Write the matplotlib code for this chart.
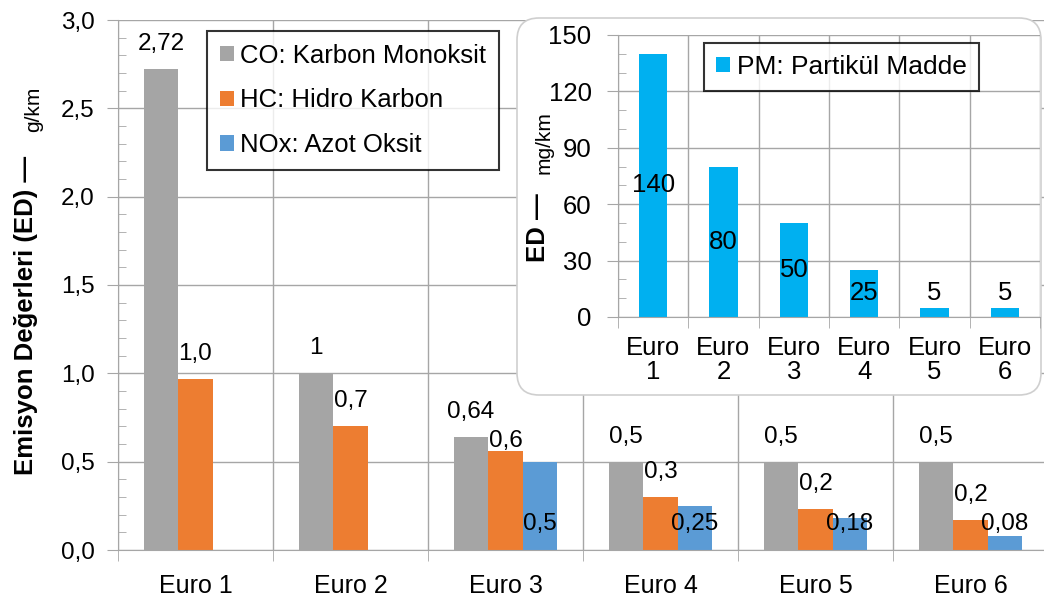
import matplotlib.pyplot as plt
import numpy as np
from matplotlib.patches import FancyBboxPatch
from matplotlib.ticker import FixedLocator, FuncFormatter, MultipleLocator

plt.rcParams["font.family"] = ["Liberation Sans", "DejaVu Sans"]

# Euro emission limits, g/km (CO, HC, NOx) and mg/km (PM)
STAGES = ["Euro 1", "Euro 2", "Euro 3", "Euro 4", "Euro 5", "Euro 6"]
CO = [2.72, 1.0, 0.64, 0.5, 0.5, 0.5]
HC = [0.97, 0.70, 0.56, 0.30, 0.23, 0.17]
NOX = [np.nan, np.nan, 0.5, 0.25, 0.18, 0.08]
PM = [140, 80, 50, 25, 5, 5]

SERIES = [
    ("CO: Karbon Monoksit", CO, "#A5A5A5", None),
    ("HC: Hidro Karbon", HC, "#ED7D31", 1),
    ("NOx: Azot Oksit", NOX, "#5B9BD5", None),
]

GRID = "#A6A6A6"
W, H = 1044, 599


def comma(v, decimals=None):
    s = f"{v:.{decimals}f}" if decimals is not None else f"{v:g}"
    return s.replace(".", ",")


def style_axes(ax, fontsize):
    for side in ("top", "right"):
        ax.spines[side].set_visible(False)
    for side in ("left", "bottom"):
        ax.spines[side].set_color(GRID)
    ax.set_axisbelow(True)
    ax.grid(axis="y", which="major", color=GRID, lw=1)
    ax.grid(axis="x", which="minor", color=GRID, lw=1)
    ax.xaxis.set_minor_locator(FixedLocator(np.arange(len(STAGES) + 1) - 0.5))
    ax.tick_params(axis="x", which="major", length=0, labelsize=fontsize)
    ax.tick_params(axis="x", which="minor", length=8, color=GRID)
    ax.tick_params(axis="y", which="major", length=8, color=GRID, labelsize=fontsize)
    ax.tick_params(axis="y", which="minor", length=6, direction="in", color=GRID)


fig = plt.figure(figsize=(W / 100, H / 100), dpi=100)

# main chart: CO / HC / NOx
ax = fig.add_axes([118 / W, 1 - 550 / H, 930 / W, 530 / H])
x = np.arange(len(STAGES))
bw = 0.2226
label_rise = {"CO: Karbon Monoksit": [18] * 6,
              "HC: Hidro Karbon": [18, 18, 7, 18, 18, 18]}

for j, (name, vals, color, dec) in enumerate(SERIES):
    xs = x + (j - 1) * bw
    ax.bar(xs, vals, width=bw, color=color, label=name, zorder=2)
    for i, v in enumerate(vals):
        if np.isnan(v):
            continue
        if name in label_rise:
            xy, dy = (xs[i], v), label_rise[name][i]
        else:
            xy, dy = (xs[i], 0), 19
        ax.annotate(comma(v, dec), xy=xy, xytext=(0, dy),
                    textcoords="offset points", ha="center", va="center",
                    fontsize=17.5, zorder=4)

ax.set_xlim(-0.5, len(STAGES) - 0.5)
ax.set_ylim(0, 3.0)
ax.set_xticks(x)
ax.set_xticklabels(STAGES)
ax.yaxis.set_major_locator(MultipleLocator(0.5))
ax.yaxis.set_minor_locator(MultipleLocator(0.1))
ax.yaxis.set_major_formatter(FuncFormatter(lambda v, _: comma(v, 1)))
style_axes(ax, 17.5)
ax.tick_params(axis="x", which="major", labelsize=18, pad=17)
ax.tick_params(axis="y", which="major", pad=9)

leg = ax.legend(loc="upper left", bbox_to_anchor=((207 - 118) / 930, (550 - 31) / 530),
                fontsize=18.5, frameon=True, fancybox=False, handlelength=0.55,
                handleheight=0.55, handletextpad=0.25, labelspacing=0.8,
                borderpad=0.5, borderaxespad=0)
leg.get_frame().set_edgecolor("black")
leg.get_frame().set_linewidth(1.5)

fig.text(26 / W, 1 - 315 / H, "Emisyon Değerleri (ED) —", rotation=90,
         ha="center", va="center", fontsize=18.5, fontweight="bold")
fig.text(34 / W, 1 - 109 / H, "g/km", rotation=90, ha="center", va="center",
         fontsize=15)

# inset panel: particulate matter
panel = FancyBboxPatch((5.17, 2.04), 5.24, 3.77,
                       boxstyle="round,pad=0,rounding_size=0.22",
                       transform=fig.dpi_scale_trans, facecolor="white",
                       edgecolor="#CFCFCF", lw=1.2, zorder=2)
fig.add_artist(panel)

inset = fig.add_axes([618 / W, 1 - 317 / H, 422 / W, 282 / H])
inset.set_zorder(3)
inset.bar(x, PM, width=0.4, color="#00B0F0", label="PM: Partikül Madde", zorder=2)
for i, v in enumerate(PM):
    inset.text(x[i], max(v / 2, 12.5), f"{v}", ha="center", va="center",
               fontsize=18.5, zorder=4)
inset.set_xlim(-0.5, len(STAGES) - 0.5)
inset.set_ylim(0, 150)
inset.set_xticks(x)
inset.set_xticklabels([s.replace(" ", "\n") for s in STAGES], linespacing=1.0)
inset.yaxis.set_major_locator(MultipleLocator(30))
inset.yaxis.set_minor_locator(MultipleLocator(10))
style_axes(inset, 18.5)
inset.tick_params(axis="x", which="major", pad=14)
inset.tick_params(axis="y", which="major", pad=11)

ileg = inset.legend(loc="upper left", bbox_to_anchor=((704 - 618) / 422, (317 - 43) / 282),
                    fontsize=19, frameon=True, fancybox=False, handlelength=0.55,
                    handleheight=0.55, handletextpad=0.25, borderpad=0.45,
                    borderaxespad=0)
ileg.get_frame().set_edgecolor("black")
ileg.get_frame().set_linewidth(1.5)

fig.text(538 / W, 1 - 228 / H, "ED —", rotation=90, ha="center", va="center",
         fontsize=18.5, fontweight="bold", zorder=5)
fig.text(544 / W, 1 - 143 / H, "mg/km", rotation=90, ha="center", va="center",
         fontsize=15, zorder=5)

fig.savefig("out.png", dpi=100, facecolor="white")
